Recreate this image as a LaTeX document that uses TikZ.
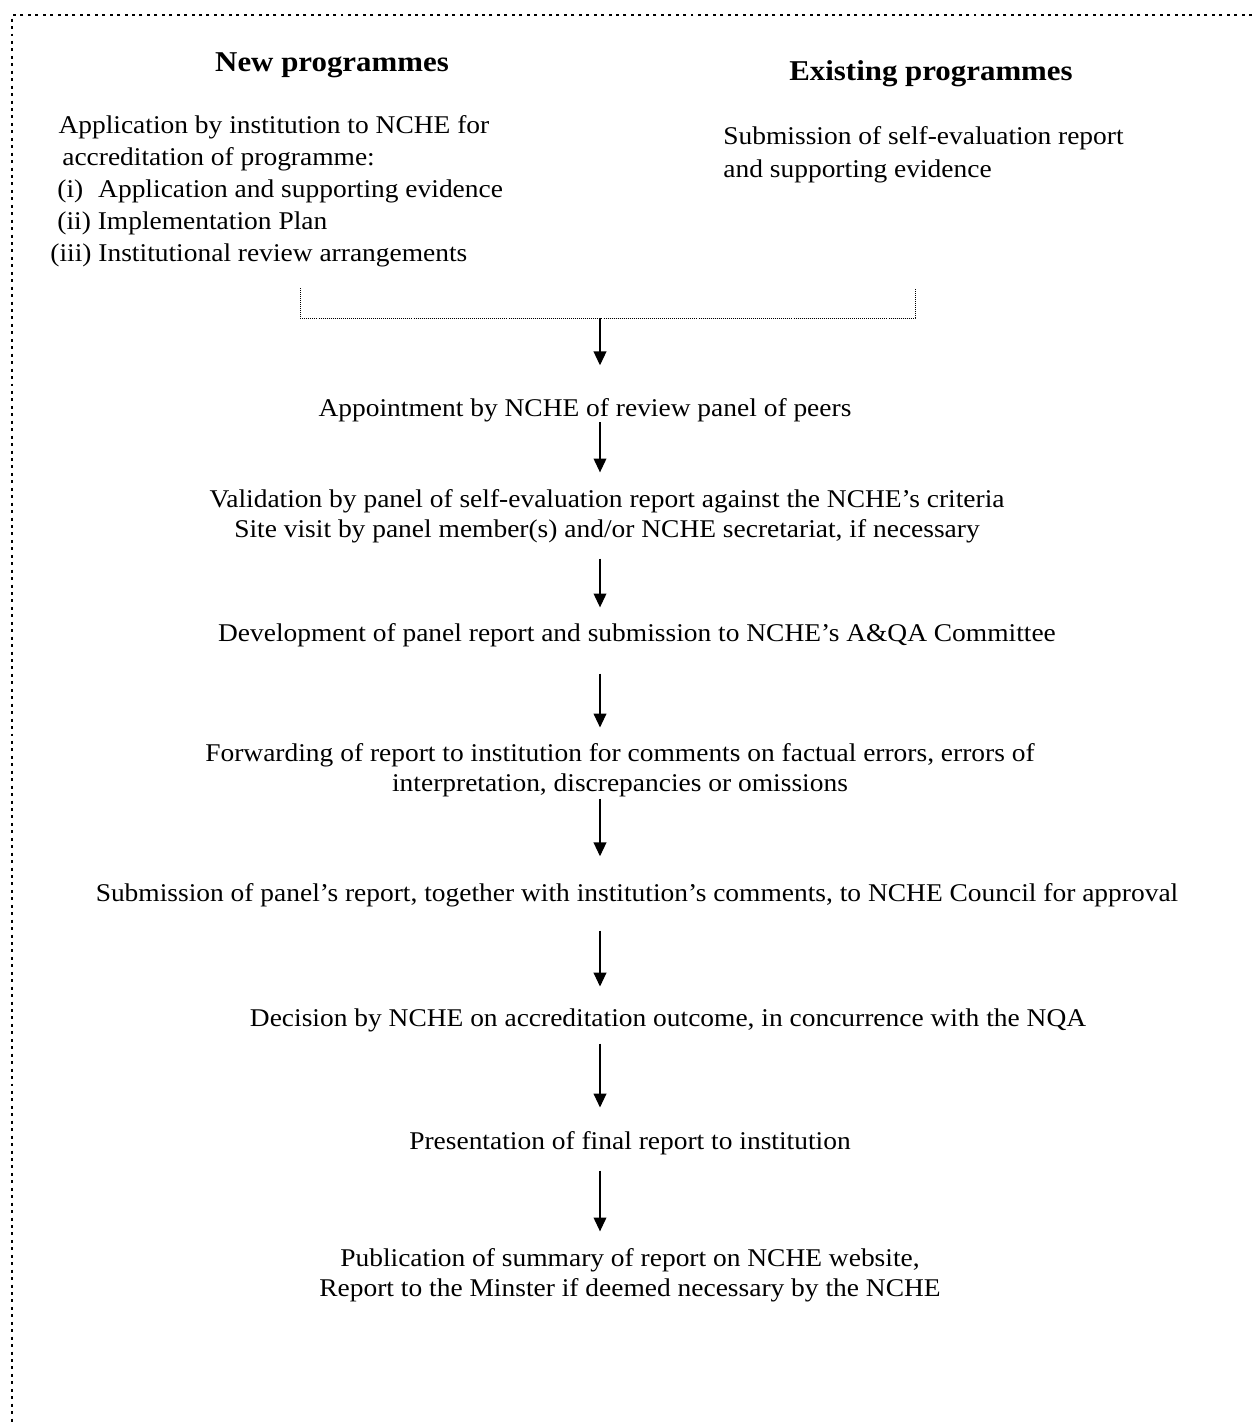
\documentclass[tikz,border=0pt]{standalone}
\usepackage{fontspec}
\setmainfont{Liberation Serif}[FakeStretch=1.075]
\usetikzlibrary{arrows.meta}

\begin{document}
\begin{tikzpicture}[x=0.47pt,y=-0.47pt,
	txt/.style={inner sep=0pt, font=\fontsize{12}{14}\selectfont},
	head/.style={txt, font=\fontsize{13.5}{15}\selectfont\bfseries},
	flow/.style={line width=0.6pt, -{Triangle[length=6.5pt,width=6pt]}},
	frame/.style={line width=1.4pt, dash pattern=on 1.4pt off 2.1pt},
	brace/.style={line width=0.45pt, dash pattern=on 0.45pt off 0.5pt}]

	\useasboundingbox (0,0) rectangle (1252,1426);

	% outer frame
	\coordinate (tr) at (1252,15);
	\coordinate (tl) at (12,15);
	\coordinate (bl) at (12,1426);
	\draw[frame] (tr) -- (tl) -- (bl);

	% the two kinds of programme
	\node[head] (newhead) at (332,65) {New programmes};
	\node[head] (oldhead) at (931,74) {Existing programmes};

	\node[txt, align=left, anchor=west, font=\fontsize{12}{15}\selectfont] (newapp) at (50,191)
		{\hspace*{3.8pt}Application by institution to NCHE for\\
		\hspace*{5.6pt}accreditation of programme:\\
		\hspace*{3.3pt}(i)\hspace{7pt}Application and supporting evidence\\
		\hspace*{3.3pt}(ii) Implementation Plan\\
		(iii) Institutional review arrangements};
	\node[txt, align=left, anchor=west, font=\fontsize{12}{15.5}\selectfont] (oldsub) at (723,155)
		{Submission of self-evaluation report\\and supporting evidence};

	% joining bracket
	\coordinate (ja) at (300,288);
	\coordinate (jb) at (300,318);
	\coordinate (jc) at (915,318);
	\coordinate (jd) at (915,288);
	\coordinate (jm) at (600,318);
	\draw[brace] (ja) -- (jb) -- (jc) -- (jd);

	% steps
	\coordinate (spine) at (600,0);
	\node[txt] (appoint) at (585,410) {Appointment by NCHE of review panel of peers};
	\node[txt, align=center] (valid) at (607,516)
		{Validation by panel of self-evaluation report against the NCHE's criteria\\
		Site visit by panel member(s) and/or NCHE secretariat, if necessary};
	\node[txt] (develop) at (637,635) {Development of panel report and submission to NCHE's A\&QA Committee};
	\node[txt, align=center] (forward) at (620,770)
		{Forwarding of report to institution for comments on factual errors, errors of\\
		interpretation, discrepancies or omissions};
	\node[txt] (submit) at (637,895) {Submission of panel's report, together with institution's comments, to NCHE Council for approval};
	\node[txt] (decide) at (668,1020) {Decision by NCHE on accreditation outcome, in concurrence with the NQA};
	\node[txt] (present) at (630,1143) {Presentation of final report to institution};
	\node[txt, align=center] (publish) at (630,1275)
		{Publication of summary of report on NCHE website,\\
		Report to the Minster if deemed necessary by the NCHE};

	% arrows
	\draw[flow, shorten >=15.3pt] (jm) -- (appoint.north -| spine);
	\draw[flow, shorten >=7.8pt] (appoint.south -| spine) -- (valid.north -| spine);
	\draw[flow, shorten <=7.3pt, shorten >=7.3pt] (valid.south -| spine) -- (develop.north -| spine);
	\draw[flow, shorten <=12.5pt, shorten >=7.3pt] (develop.south -| spine) -- (forward.north -| spine);
	\draw[flow, shorten <=0.7pt, shorten >=12.5pt] (forward.south -| spine) -- (submit.north -| spine);
	\draw[flow, shorten <=11pt, shorten >=10.1pt] (submit.south -| spine) -- (decide.north -| spine);
	\draw[flow, shorten <=5.4pt, shorten >=11pt] (decide.south -| spine) -- (present.north -| spine);
	\draw[flow, shorten <=7.3pt, shorten >=7.8pt] (present.south -| spine) -- (publish.north -| spine);

\end{tikzpicture}
\end{document}
